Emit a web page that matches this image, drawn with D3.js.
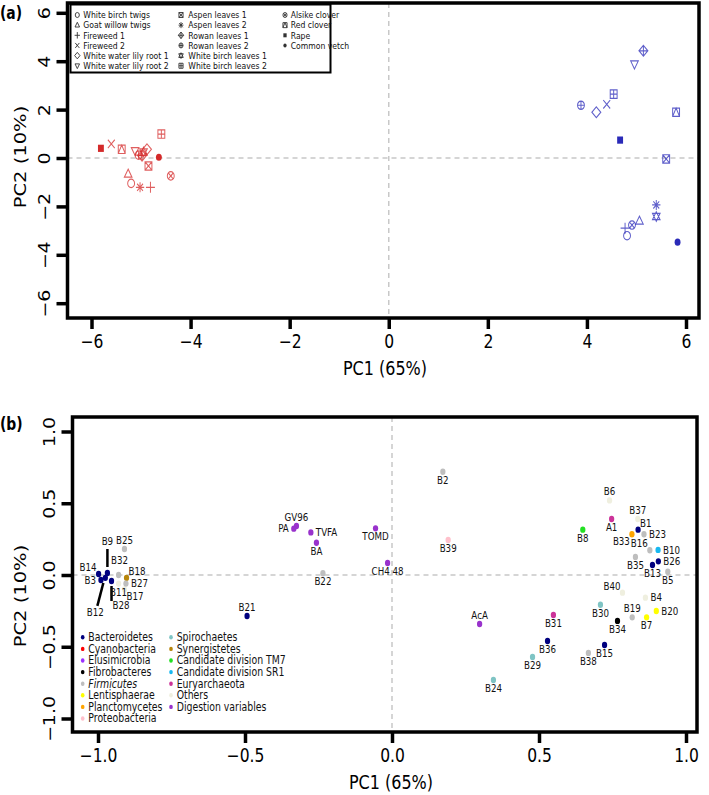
<!DOCTYPE html>
<html>
<head>
<meta charset="utf-8">
<script src="https://cdn.jsdelivr.net/npm/d3@7"></script>
<style>
body { margin: 0; background: #fff; }
svg { display: block; font-family: 'DejaVu Sans', sans-serif; }
</style>
</head>
<body>
<svg></svg>
<script>

// ---------- data, panel (a): sample scores ----------

const sampleNames = ['White birch twigs', 'Goat willow twigs', 'Fireweed 1', 'Fireweed 2',
  'White water lily root 1', 'White water lily root 2', 'Aspen leaves 1', 'Aspen leaves 2',
  'Rowan leaves 1', 'Rowan leaves 2', 'White birch leaves 1', 'White birch leaves 2',
  'Alsike clover', 'Red clover', 'Rape', 'Common vetch'];

// R pch symbol for each sample, same order
const samplePch = [1, 2, 3, 4, 5, 6, 7, 8, 9, 10, 11, 12, 13, 14, 15, 16];

const redPC1 = [-5.20, -5.26, -4.81, -5.60, -4.88, -5.12, -4.85, -5.02, -4.98, -5.05, -4.95, -4.59, -4.40, -5.39, -5.81, -4.64];
const redPC2 = [-1.05, -0.66, -1.21, 0.58, 0.36, 0.30, -0.33, -1.21, 0.10, 0.12, 0.25, 0.99, -0.74, 0.36, 0.40, 0.03];

const bluePC1 = [4.81, 5.06, 4.77, 4.40, 4.19, 4.96, 5.60, 5.40, 5.14, 3.88, 5.40, 4.54, 4.91, 5.80, 4.67, 5.83];
const bluePC2 = [-3.21, -2.60, -2.90, 2.22, 1.89, 3.88, -0.04, -1.94, 4.43, 2.18, -2.42, 2.64, -2.77, 1.89, 0.74, -3.48];

const ticksA = [-6, -4, -2, 0, 2, 4, 6];

// ---------- data, panel (b): loadings ----------

const groupNames = ['Bacteroidetes', 'Cyanobacteria', 'Elusimicrobia', 'Fibrobacteres', 'Firmicutes',
  'Lentisphaerae', 'Planctomycetes', 'Proteobacteria', 'Spirochaetes', 'Synergistetes',
  'Candidate division TM7', 'Candidate division SR1', 'Euryarchaeota', 'Others', 'Digestion variables'];

const loadNames = ['B1', 'B2', 'B3', 'B4', 'B5', 'B6', 'B7', 'B8', 'B9', 'B10',
  'B11', 'B12', 'B13', 'B14', 'B15', 'B16', 'B17', 'B18', 'B19', 'B20',
  'B21', 'B22', 'B23', 'B24', 'B25', 'B26', 'B27', 'B28', 'B29', 'B30',
  'B31', 'B32', 'B33', 'B34', 'B35', 'B36', 'B37', 'B38', 'B39', 'B40',
  'A1', 'AcA', 'GV96', 'PA', 'TVFA', 'BA', 'TOMD', 'CH4 48'];

const loadPC1 = [0.837, 0.173, -0.990, 0.862, 0.938, 0.740, 0.866, 0.649, -0.968, 0.905,
  -0.930, -0.975, 0.886, -0.998, 0.723, 0.877, -0.910, -0.903, 0.817, 0.899,
  -0.493, -0.235, 0.857, 0.345, -0.910, 0.906, -0.905, -0.954, 0.478, 0.709,
  0.549, -0.930, 0.816, 0.767, 0.828, 0.529, 0.836, 0.668, 0.191, 0.784,
  0.747, 0.298, -0.325, -0.334, -0.276, -0.257, -0.056, -0.015];

const loadPC2 = [0.316, 0.720, -0.035, -0.158, 0.023, 0.520, -0.295, 0.316, 0.014, 0.175,
  -0.060, -0.020, 0.070, 0.007, -0.488, 0.172, -0.100, -0.020, -0.295, -0.251,
  -0.286, 0.012, 0.284, -0.732, 0.181, 0.095, -0.060, -0.042, -0.571, -0.207,
  -0.279, 0.000, 0.284, -0.320, 0.125, -0.460, 0.390, -0.543, 0.244, -0.123,
  0.390, -0.341, 0.341, 0.323, 0.297, 0.225, 0.325, 0.084];

const loadGroup = ['Bacteroidetes', 'Firmicutes', 'Bacteroidetes', 'Others', 'Firmicutes', 'Others', 'Lentisphaerae', 'Candidate division TM7', 'Bacteroidetes', 'Candidate division SR1',
  'Others', 'Bacteroidetes', 'Bacteroidetes', 'Bacteroidetes', 'Bacteroidetes', 'Firmicutes', 'Others', 'Synergistetes', 'Firmicutes', 'Lentisphaerae',
  'Bacteroidetes', 'Firmicutes', 'Firmicutes', 'Spirochaetes', 'Firmicutes', 'Bacteroidetes', 'Firmicutes', 'Bacteroidetes', 'Spirochaetes', 'Spirochaetes',
  'Euryarchaeota', 'Firmicutes', 'Planctomycetes', 'Fibrobacteres', 'Firmicutes', 'Bacteroidetes', 'Others', 'Firmicutes', 'Proteobacteria', 'Others',
  'Euryarchaeota', 'Digestion variables', 'Digestion variables', 'Digestion variables', 'Digestion variables', 'Digestion variables', 'Digestion variables', 'Digestion variables'];

const ticksB = [-1, -0.5, 0, 0.5, 1];


// ---------- style ----------

const SX = 0.82;               // the figure is squeezed horizontally
const red = '#d42a2a', blue = '#2a2ab8';
const groupColors = ['#00007f', '#ff0000', '#9b30ff', '#000000', '#bebebe', '#ffff00', '#ffa500', '#ffc0cb',
  '#7fc4c4', '#b8860b', '#22e022', '#18b8f0', '#cc3399', '#efefdf', '#9932cc'];
const color = d3.scaleOrdinal().domain(groupNames).range(groupColors);

// label placement (R pos: 1 below, 2 left, 3 above, 4 right; plus corners and leaders)
const labelPos = {
  B1: 'tr', B2: 1, B3: 2, B4: 4, B5: 1, B6: 3, B7: 1, B8: 1, B9: 'up', B10: 4,
  B11: 1, B12: 'down', B13: 1, B14: 'tl', B15: 1, B16: 'tl', B17: 'br', B18: 'tr', B19: 3, B20: 4,
  B21: 3, B22: 1, B23: 4, B24: 1, B25: 3, B26: 4, B27: 4, B28: 'down2', B29: 1, B30: 1,
  B31: 1, B32: 'hi', B33: 'bl', B34: 1, B35: 1, B36: 1, B37: 3, B38: 1, B39: 1, B40: 'tl',
  A1: 1, AcA: 3, GV96: 3, PA: 2, TVFA: 4, BA: 1, TOMD: 1, 'CH4 48': 1
};

const svg = d3.select('svg')
  .attr('width', 709)
  .attr('height', 795);

function txt(g, x, y, s, size) {
  return g.append('text')
    .attr('transform', `translate(${x},${y}) scale(${SX},1)`)
    .style('font-size', size + 'px')
    .text(s);
}

// R plotting symbols
function pch(p, r) {
  const path = d3.path();
  const sq = () => path.rect(-r, -r, 2 * r, 2 * r);
  const circ = () => { path.moveTo(r, 0); path.arc(0, 0, r, 0, 2 * Math.PI); };
  const plus = k => { path.moveTo(-k, 0); path.lineTo(k, 0); path.moveTo(0, -k); path.lineTo(0, k); };
  const times = k => { path.moveTo(-k, -k); path.lineTo(k, k); path.moveTo(-k, k); path.lineTo(k, -k); };
  const triUp = () => { path.moveTo(0, -r * 1.15); path.lineTo(r * 1.1, r * 0.75); path.lineTo(-r * 1.1, r * 0.75); path.closePath(); };
  const triDown = () => { path.moveTo(0, r * 1.15); path.lineTo(r * 1.1, -r * 0.75); path.lineTo(-r * 1.1, -r * 0.75); path.closePath(); };
  const diam = () => { path.moveTo(0, -r * 1.3); path.lineTo(r * 1.3, 0); path.lineTo(0, r * 1.3); path.lineTo(-r * 1.3, 0); path.closePath(); };
  switch (p) {
    case 1: circ(); break;
    case 2: triUp(); break;
    case 3: plus(r * 1.3); break;
    case 4: times(r); break;
    case 5: diam(); break;
    case 6: triDown(); break;
    case 7: sq(); times(r); break;
    case 8: plus(r * 1.2); times(r * 0.85); break;
    case 9: diam(); plus(r * 1.3); break;
    case 10: circ(); plus(r); break;
    case 11: triUp(); triDown(); break;
    case 12: sq(); plus(r); break;
    case 13: circ(); times(r * 0.7); break;
    case 14: sq(); path.moveTo(-r, r); path.lineTo(0, -r); path.lineTo(r, r); break;
    case 15: sq(); break;
    case 16: circ(); break;
  }
  return path.toString();
}

function drawBox(g, x0, x1, y0, y1) {
  g.append('rect')
    .attr('x', x0).attr('y', y0)
    .attr('width', x1 - x0).attr('height', y1 - y0)
    .attr('fill', 'none')
    .attr('stroke', '#000')
    .attr('stroke-width', 3.5);
}

function zeroLines(g, x, y, x0, x1, y0, y1) {
  g.append('line').attr('x1', x(0)).attr('x2', x(0)).attr('y1', y0).attr('y2', y1);
  g.append('line').attr('x1', x0).attr('x2', x1).attr('y1', y(0)).attr('y2', y(0));
  g.selectAll('line')
    .attr('stroke', '#c8c8c8')
    .attr('stroke-width', 1.5)
    .attr('stroke-dasharray', '5,4');
}

function axes(g, x, y, box, xTicks, yTicks, fmt) {
  const xAxis = d3.axisBottom(x).tickValues(xTicks).tickSize(11).tickPadding(6).tickFormat(fmt);
  const xg = g.append('g')
    .attr('transform', `translate(0,${box.y1})`)
    .call(xAxis);
  const yAxis = d3.axisLeft(y).tickValues(yTicks).tickSize(11).tickFormat(fmt);
  const yg = g.append('g')
    .attr('transform', `translate(${box.x0},0)`)
    .call(yAxis);
  [xg, yg].forEach(a => {
    a.select('.domain').remove();
    a.selectAll('.tick line').attr('stroke', '#000').attr('stroke-width', 3.5);
    a.selectAll('.tick text')
      .style('font-family', "'DejaVu Sans', sans-serif")
      .style('font-size', '19px')
      .attr('fill', '#000');
  });
  xg.selectAll('.tick text').attr('transform', `scale(${SX},1)`);
  yg.selectAll('.tick text')
    .attr('x', 0).attr('dy', 0)
    .attr('text-anchor', 'middle')
    .attr('transform', `translate(-18,0) scale(${SX},1) rotate(-90)`);
}


// ================= panel (a) =================

const boxA = { x0: 67.5, x1: 699, y0: 3, y1: 318 };
const xA = d3.scaleLinear().domain([-6, 6]).range([91.5, 686]);
const yA = d3.scaleLinear().domain([-6, 6]).range([303.2, 12.8]);

const gA = svg.append('g');
zeroLines(gA.append('g'), xA, yA, boxA.x0, boxA.x1, boxA.y0, boxA.y1);

const samples = [];
sampleNames.forEach((n, i) => {
  samples.push({ name: n, pch: samplePch[i], pc1: redPC1[i], pc2: redPC2[i], col: red });
  samples.push({ name: n, pch: samplePch[i], pc1: bluePC1[i], pc2: bluePC2[i], col: blue });
});

gA.append('g').selectAll('path')
  .data(samples)
  .join('path')
    .attr('transform', d => `translate(${xA(d.pc1)},${yA(d.pc2)}) scale(${SX},1)`)
    .attr('d', d => pch(d.pch, d.pch >= 15 ? 3.6 : 4.2))
    .attr('fill', d => d.pch >= 15 ? d.col : 'none')
    .attr('stroke', d => d.pch >= 15 ? 'none' : d.col)
    .attr('stroke-opacity', 0.75)
    .attr('stroke-width', 1.2);

// legend (a)
const legA = gA.append('g');
legA.append('rect')
  .attr('x', 70.5).attr('y', 4.5)
  .attr('width', 260).attr('height', 68)
  .attr('fill', '#fff')
  .attr('stroke', '#000')
  .attr('stroke-width', 2);

const legColsA = [{ sx: 77.3, tx: 83.3 }, { sx: 181, tx: 188.3 }, { sx: 285, tx: 290.7 }];
sampleNames.forEach((n, i) => {
  const c = legColsA[Math.floor(i / 6)], r = i % 6;
  const y = 15 + r * 10.15;
  const p = samplePch[i];
  legA.append('path')
    .attr('transform', `translate(${c.sx},${y}) scale(${SX},1)`)
    .attr('d', pch(p, p >= 15 ? 2 : 2.5))
    .attr('fill', p >= 15 ? '#333' : 'none')
    .attr('stroke', p >= 15 ? 'none' : '#333')
    .attr('stroke-width', 1);
  txt(legA, c.tx, y + 3.3, n, 9.4).attr('fill', '#111');
});

axes(gA, xA, yA, boxA, ticksA, ticksA, d3.format('d'));
drawBox(gA, boxA.x0, boxA.x1, boxA.y0, boxA.y1);

txt(gA, 385, 375, 'PC1 (65%)', 19.5).attr('text-anchor', 'middle');
gA.append('text')
  .attr('transform', `translate(26,157) scale(${SX},1) rotate(-90)`)
  .attr('text-anchor', 'middle')
  .style('font-size', '19.5px')
  .text('PC2 (10%)');
txt(gA, 0, 19, '(a)', 17).style('font-weight', 'bold');


// ================= panel (b) =================

const boxB = { x0: 72.5, x1: 697, y0: 417, y1: 732 };
const xB = d3.scaleLinear().domain([-1, 1]).range([98, 686]);
const yB = d3.scaleLinear().domain([-1, 1]).range([718.5, 431.5]);

const gB = svg.append('g');
zeroLines(gB.append('g'), xB, yB, boxB.x0, boxB.x1, boxB.y0, boxB.y1);

const loads = loadNames.map((n, i) => ({ name: n, pc1: loadPC1[i], pc2: loadPC2[i], group: loadGroup[i] }));

// leader lines for the crowded left cluster
const leaders = { up: [0, -6, 0, -24], down: [-2, 5, -8, 28], down2: [0, 5, 0, 20] };
gB.append('g').selectAll('line')
  .data(loads.filter(d => leaders[labelPos[d.name]]))
  .join('line')
    .attr('x1', d => xB(d.pc1) + leaders[labelPos[d.name]][0])
    .attr('y1', d => yB(d.pc2) + leaders[labelPos[d.name]][1])
    .attr('x2', d => xB(d.pc1) + leaders[labelPos[d.name]][2])
    .attr('y2', d => yB(d.pc2) + leaders[labelPos[d.name]][3])
    .attr('stroke', '#000')
    .attr('stroke-width', 2.5);

gB.append('g').selectAll('ellipse')
  .data(loads)
  .join('ellipse')
    .attr('cx', d => xB(d.pc1))
    .attr('cy', d => yB(d.pc2))
    .attr('rx', 3.2 * SX)
    .attr('ry', 3.2)
    .attr('fill', d => color(d.group));

const labelOffset = {
  1: [0, 12, 'middle'], 2: [-5, 3.8, 'end'], 3: [0, -5, 'middle'], 4: [5, 3.8, 'start'],
  tl: [-2, -3, 'end'], tr: [2, -3, 'start'], bl: [-2, 11, 'end'], br: [2, 11, 'start'],
  hi: [1, -11, 'middle'],
  up: [0, -28, 'middle'], down: [-10, 38, 'middle'], down2: [1, 28, 'start']
};
loads.forEach(d => {
  const o = labelOffset[labelPos[d.name]];
  txt(gB, xB(d.pc1) + o[0], yB(d.pc2) + o[1], d.name, 10.6)
    .attr('text-anchor', o[2])
    .attr('fill', '#111');
});

// legend (b)
const legB = gB.append('g');
const legColsB = [{ sx: 82.7, tx: 88.3 }, { sx: 171, tx: 176.7 }];
groupNames.forEach((n, i) => {
  const c = legColsB[i < 8 ? 0 : 1], r = i < 8 ? i : i - 8;
  const y = 637.3 + r * 11.6;
  legB.append('ellipse')
    .attr('cx', c.sx).attr('cy', y)
    .attr('rx', 2.2 * SX).attr('ry', 2.2)
    .attr('fill', color(n));
  txt(legB, c.tx, y + 3.9, n, 11.4)
    .attr('fill', '#111')
    .style('font-style', n === 'Firmicutes' ? 'italic' : null);
});

axes(gB, xB, yB, boxB, ticksB, ticksB, d3.format('.1f'));
drawBox(gB, boxB.x0, boxB.x1, boxB.y0, boxB.y1);

txt(gB, 391, 789, 'PC1 (65%)', 19.5).attr('text-anchor', 'middle');
gB.append('text')
  .attr('transform', `translate(26,596) scale(${SX},1) rotate(-90)`)
  .attr('text-anchor', 'middle')
  .style('font-size', '19.5px')
  .text('PC2 (10%)');
txt(gB, 0, 430, '(b)', 17).style('font-weight', 'bold');

</script>
</body>
</html>
